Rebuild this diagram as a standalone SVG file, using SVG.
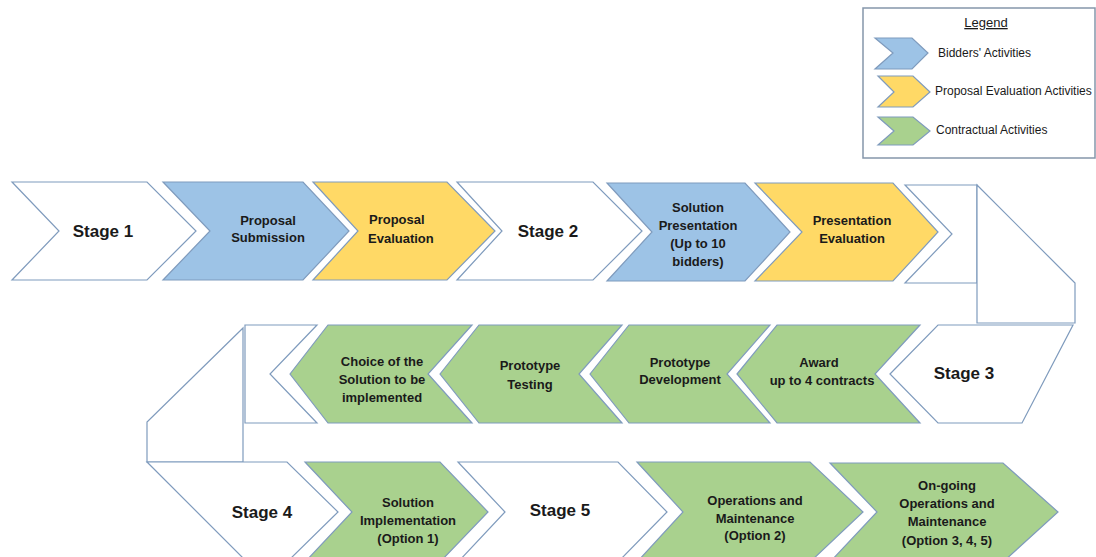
<svg xmlns="http://www.w3.org/2000/svg" width="1096" height="557" viewBox="0 0 1096 557">
<style>
.s{stroke:#7f9bbd;stroke-width:1.2;stroke-linejoin:miter}
.w{fill:#ffffff}
.b{fill:#9dc3e6}
.y{fill:#ffd966}
.g{fill:#a9d18e}
text{font-family:"Liberation Sans",Arial,sans-serif;fill:#1a1a1a}
.st{font-size:17px;font-weight:bold;text-anchor:middle}
.t{font-size:13px;font-weight:bold;text-anchor:middle}
.l{text-anchor:start}
.lg{font-size:12px}
</style>
<rect width="1096" height="557" fill="#ffffff"/>
<g id="legend">
<rect x="863" y="8" width="232" height="150" fill="#ffffff" stroke="#8596aa" stroke-width="1.5"/>
<text x="986" y="27" font-size="13" text-anchor="middle" text-decoration="underline">Legend</text>
<polygon class="s b" points="875,38 912,38 928,53 912,69 875,69 893,53"/>
<text class="lg" x="938" y="57">Bidders' Activities</text>
<polygon class="s y" points="878,76 913,76 930,92 913,107 878,107 894,92"/>
<text class="lg" x="935" y="95">Proposal Evaluation Activities</text>
<polygon class="s g" points="878,117 913,117 930,131 913,145 878,145 894,131"/>
<text class="lg" x="936" y="134">Contractual Activities</text>
</g>
<g id="connectors"/>
<g id="stage1">
<polygon class="s w" points="12,182 147,182 196,231 147,280 12,280 59,231"/>
<text class="st" x="103" y="237">Stage 1</text>
</g>
<g id="proposal-submission">
<polygon class="s b" points="163,182 303,182 349,231 303,280 163,280 210,231"/>
<text class="t" x="268" y="225">Proposal</text>
<text class="t" x="268" y="242">Submission</text>
</g>
<g id="proposal-evaluation">
<polygon class="s y" points="313,182 447,182 495,231 447,280 313,280 358,231"/>
<text class="t l" x="369" y="224">Proposal</text>
<text class="t l" x="368" y="243">Evaluation</text>
</g>
<g id="stage2">
<polygon class="s w" points="457,182 593,182 642,231 593,280 457,280 502,231"/>
<text class="st" x="548" y="237">Stage 2</text>
</g>
<g id="solution-presentation">
<polygon class="s b" points="607,183 745,183 790,232 745,281 607,281 652,232"/>
<text class="t" x="698" y="212">Solution</text>
<text class="t" x="698" y="230">Presentation</text>
<text class="t" x="698" y="248">(Up to 10</text>
<text class="t" x="698" y="266">bidders)</text>
</g>
<g id="presentation-evaluation">
<polygon class="s y" points="755,183 893,183 938,232 893,281 755,281 802,232"/>
<text class="t" x="852" y="225">Presentation</text>
<text class="t" x="852" y="243">Evaluation</text>
</g>
<g id="turn-right">
<polygon class="s w" points="905,185 977,185 977,283 905,283 952,234"/>
<polygon class="s w" points="977,185 1075,283 1075,323 977,323"/>
</g>
<g id="stage3">
<polygon class="s w" points="890,374 938,325 1073,325 1022,423 938,423"/>
<text class="st" x="964" y="379">Stage 3</text>
</g>
<g id="award">
<polygon class="s g" points="737,374 777,325 920,325 875,374 920,423 777,423"/>
<text class="t" x="819" y="367">Award</text>
<text class="t" x="822" y="385">up to 4 contracts</text>
</g>
<g id="prototype-development">
<polygon class="s g" points="590,374 629,325 770,325 727,374 770,423 629,423"/>
<text class="t" x="680" y="367">Prototype</text>
<text class="t" x="680" y="384">Development</text>
</g>
<g id="prototype-testing">
<polygon class="s g" points="440,374 479,325 622,325 579,374 622,423 479,423"/>
<text class="t" x="530" y="370">Prototype</text>
<text class="t" x="530" y="389">Testing</text>
</g>
<g id="choice-of-solution">
<polygon class="s g" points="290,374 328,325 472,325 428,374 472,423 328,423"/>
<text class="t" x="382" y="366">Choice of the</text>
<text class="t" x="382" y="384">Solution to be</text>
<text class="t" x="382" y="402">implemented</text>
</g>
<g id="turn-left">
<polygon class="s w" points="245,325 317,325 270,374 317,423 245,423"/>
<polygon class="s w" points="243,328 147,422 147,462 243,462"/>
</g>
<g id="stage4">
<polygon class="s w" points="147,462 287,462 338,512 287,562 247,562"/>
<text class="st" x="262" y="518">Stage 4</text>
</g>
<g id="solution-implementation">
<polygon class="s g" points="305,462 440,462 488,512 440,562 305,562 352,512"/>
<text class="t" x="408" y="507">Solution</text>
<text class="t" x="408" y="525">Implementation</text>
<text class="t" x="408" y="543">(Option 1)</text>
</g>
<g id="stage5">
<polygon class="s w" points="458,462 618,462 667,512 618,562 458,562 505,512"/>
<text class="st" x="560" y="516">Stage 5</text>
</g>
<g id="operations-maintenance">
<polygon class="s g" points="637,462 810,462 863,512 810,562 637,562 683,512"/>
<text class="t" x="755" y="505">Operations and</text>
<text class="t" x="755" y="523">Maintenance</text>
<text class="t" x="755" y="540">(Option 2)</text>
</g>
<g id="ongoing-operations">
<polygon class="s g" points="830,463 1003,463 1058,512 1003,562 830,562 877,512"/>
<text class="t" x="947" y="490">On-going</text>
<text class="t" x="947" y="508">Operations and</text>
<text class="t" x="947" y="526">Maintenance</text>
<text class="t" x="947" y="545">(Option 3, 4, 5)</text>
</g>
</svg>
